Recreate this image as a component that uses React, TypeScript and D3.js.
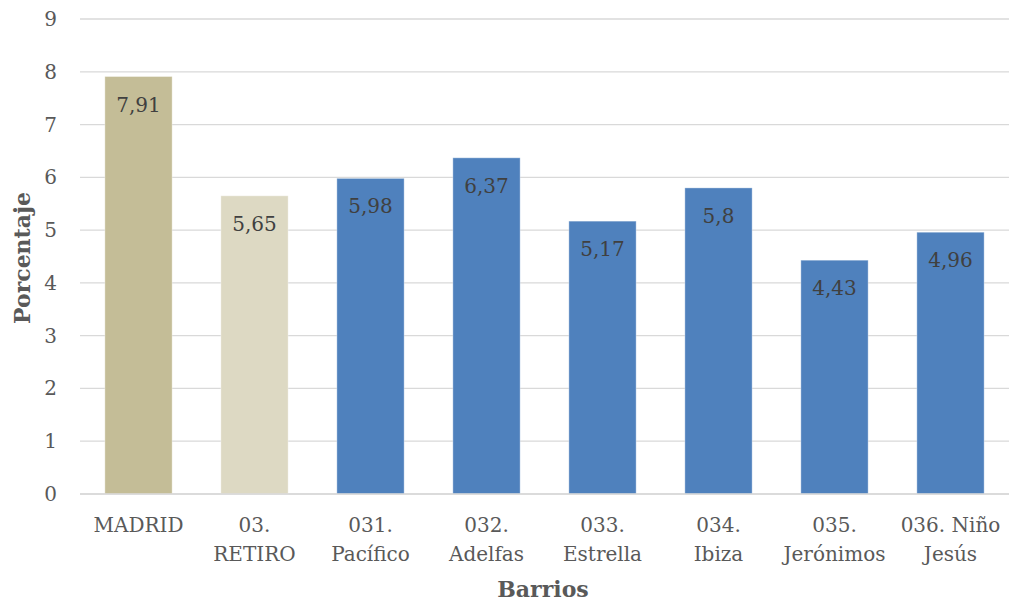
import React from "react";
import * as d3 from "d3";

const categories = ["MADRID", "03. RETIRO", "031. Pacífico", "032. Adelfas", "033. Estrella", "034. Ibiza", "035. Jerónimos", "036. Niño Jesús"];
const labelLines = [["MADRID"], ["03.", "RETIRO"], ["031.", "Pacífico"], ["032.", "Adelfas"], ["033.", "Estrella"], ["034.", "Ibiza"], ["035.", "Jerónimos"], ["036. Niño", "Jesús"]];
const values = [7.91, 5.65, 5.98, 6.37, 5.17, 5.8, 4.43, 4.96];
const valueLabels = ["7,91", "5,65", "5,98", "6,37", "5,17", "5,8", "4,43", "4,96"];
const barColors = ["#C4BD97", "#DDD9C3", "#4F81BD", "#4F81BD", "#4F81BD", "#4F81BD", "#4F81BD", "#4F81BD"];
const yTicks = [0, 1, 2, 3, 4, 5, 6, 7, 8, 9];
const yTitle = "Porcentaje";
const xTitle = "Barrios";

const W = 1017;
const H = 605;
const FONT = "'DejaVu Serif', serif";

export default function App() {
  const x = d3.scaleBand<string>().domain(categories).range([80.5, 1008.5]).paddingInner(0.42).paddingOuter(0.21);
  const y = d3.scaleLinear().domain([0, 9]).range([494, 19]);
  return (
    <svg width={W} height={H} style={{ position: "absolute", left: 0, top: 0, background: "#fff" }} fontFamily={FONT}>
      {yTicks.map((t) => (
        <g key={t}>
          <line x1={80} x2={1009} y1={y(t)} y2={y(t)} stroke="#D9D9D9" strokeWidth={1.3} />
          <text x={57} y={y(t)} dy="0.35em" textAnchor="end" fontSize={20} fill="#595959">{t}</text>
        </g>
      ))}
      {categories.map((c, i) => (
        <g key={c}>
          <rect x={x(c)} y={y(values[i])} width={x.bandwidth()} height={y(0) - y(values[i])} fill={barColors[i]} stroke="#ffffff" strokeOpacity={0.35} strokeWidth={1} />
          <text x={(x(c) as number) + x.bandwidth() / 2} y={y(values[i]) + 35} textAnchor="middle" fontSize={20} fill="#404040">{valueLabels[i]}</text>
          {labelLines[i].map((ln, j) => (
            <text key={j} x={(x(c) as number) + x.bandwidth() / 2} y={532 + j * 29} textAnchor="middle" fontSize={20} fill="#595959">{ln}</text>
          ))}
        </g>
      ))}
      <line x1={80} x2={1009} y1={y(0)} y2={y(0)} stroke="#D9D9D9" strokeWidth={1.3} />
      <text transform={`translate(30,258) rotate(-90)`} textAnchor="middle" fontSize={22} fontWeight="bold" fill="#595959">{yTitle}</text>
      <text x={543} y={597} textAnchor="middle" fontSize={22} fontWeight="bold" fill="#595959">{xTitle}</text>
    </svg>
  );
}
